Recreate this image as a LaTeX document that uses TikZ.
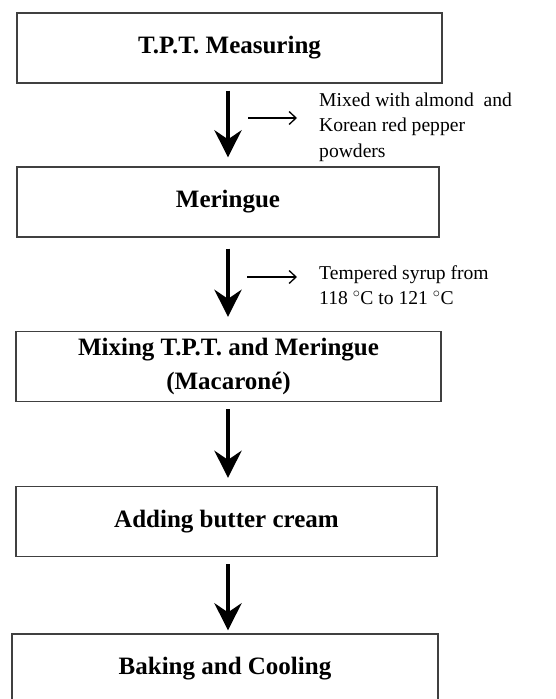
\documentclass[tikz,border=0pt]{standalone}
\usepackage{fontspec}
\setmainfont{Liberation Serif}
\usetikzlibrary{positioning, arrows.meta}
\tikzset{
    process box/.style={rectangle, draw=black!75, line width=1.3pt, minimum height=70pt, inner sep=0pt, align=center, font=\fontsize{25}{33}\selectfont\bfseries},
    side note/.style={anchor=west, align=left, inner sep=0pt, font=\fontsize{19.6}{25.5}\selectfont},
    flow arrow/.style={line width=4.5pt, -{Stealth[length=27pt, width=27pt, inset=9pt]}},
    note arrow/.style={line width=1.3pt, -{Straight Barb[length=7pt, width=13pt]}},
}

\begin{document}
\begin{tikzpicture}[x=1pt, y=-1pt]
    \useasboundingbox (0,0) rectangle (555,699);
    \clip (0,0) rectangle (555,699);
    % main steps
    \node[process box, minimum width=425pt] (measure) at (229.5, 48) {T.P.T. Measuring};
    \node[process box, minimum width=422pt] (meringue) at (228, 202) {Meringue};
    \node[process box, minimum width=425pt] (mixing) at (228.5, 366.5) {Mixing T.P.T. and Meringue\\[1pt](Macaron\'e)};
    \node[process box, minimum width=421pt] (butter) at (226.5, 521.5) {Adding butter cream};
    \node[process box, minimum width=426pt] (baking) at (225, 669) {Baking and Cooling};
    % notes
    \node[side note] (note1) at (319, 127) {Mixed with almond\ \ and\\Korean red pepper\\powders};
    \node[side note] (note2) at (319, 285) {Tempered syrup from\\118 $^{\circ}$C to 121 $^{\circ}$C};
    % flow
    \draw[flow arrow, shorten <=7pt, shorten >=9pt] (measure.south -| 228,0) -- (meringue.north -| 228,0);
    \draw[flow arrow, shorten <=11pt, shorten >=14pt] (meringue.south -| 228,0) -- (mixing.north -| 228,0);
    \draw[flow arrow, shorten <=7pt, shorten >=8pt] (mixing.south -| 228,0) -- (butter.north -| 228,0);
    \draw[flow arrow, shorten <=7pt, shorten >=3pt] (butter.south -| 228,0) -- (baking.north -| 228,0);
    % side arrows
    \coordinate (tip1) at (248, 118);
    \coordinate (tip2) at (247, 277);
    \draw[note arrow, shorten >=22pt] (tip1) -- (tip1 -| note1.west);
    \draw[note arrow, shorten >=22pt] (tip2) -- (tip2 -| note2.west);
\end{tikzpicture}
\end{document}
